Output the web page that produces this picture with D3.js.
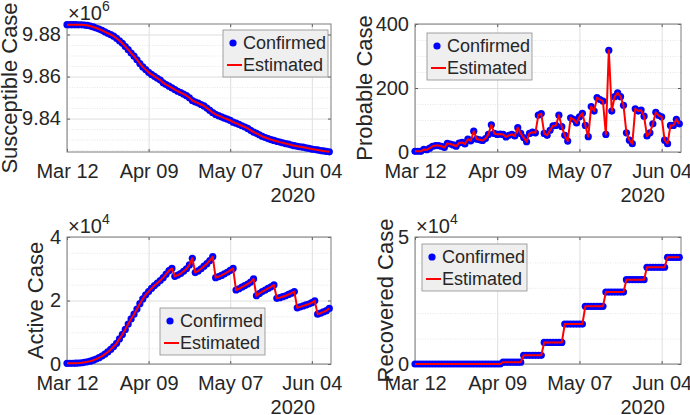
<!DOCTYPE html>
<html>
<head>
<meta charset="utf-8">
<script src="https://cdn.jsdelivr.net/npm/d3@7"></script>
<style>
  body { margin: 0; background: #fff; }
  svg text { font-family: "Liberation Sans", Arial, Helvetica, sans-serif; fill: #262626; }
  .grid line { stroke: #dedede; }
  .minor line { stroke: #e6e6e6; stroke-dasharray: 1,1.5; }
  .grid .domain, .minor .domain, .tk .domain { display: none; }
  .tk line { stroke: #5a5a5a; }
  .lbl text { font-size: 20px; }
  .lbl .domain, .lbl line { display: none; }
</style>
</head>
<body>
<div id="chart"></div>
<script>
const startDay = "2020-03-12";
const tickDays = ["2020-03-12", "2020-04-09", "2020-05-07", "2020-06-04"];
const yearLabel = "2020";
const legendLabels = ["Confirmed", "Estimated"];
const yLabels = ["Susceptible Case", "Probable Case", "Active Case", "Recovered Case"];

const susceptible = [
  9884700, 9884700, 9884700, 9884700, 9884600, 9884600, 9884500, 9884300, 9884000, 9883600,
  9883100, 9882600, 9882000, 9881300, 9880600, 9879900, 9879200, 9878200, 9877000, 9875800,
  9874300, 9872800, 9871200, 9869700, 9868000, 9866200, 9864600, 9863300, 9862000, 9861000,
  9860100, 9859200, 9858300, 9857000, 9856200, 9855400, 9854600, 9853800, 9853000, 9852400,
  9851600, 9850900, 9849900, 9848600, 9847900, 9847400, 9846700, 9846000, 9845000, 9843900,
  9842800, 9842000, 9841400, 9840800, 9840200, 9839700, 9839100, 9838300, 9837800, 9837200,
  9836600, 9836000, 9835300, 9834400, 9833600, 9833000, 9832300, 9831500, 9831000, 9830500,
  9830000, 9829600, 9829200, 9828800, 9828500, 9828100, 9827800, 9827400, 9827100, 9826800,
  9826600, 9826400, 9826100, 9825800, 9825500, 9825300, 9825100, 9824800, 9824600, 9824400,
  9824200
];

const probable = [
  2, 2, 2, 8, 7, 12, 18, 20, 20, 18,
  14, 27, 25, 22, 18, 28, 30, 25, 40, 35,
  65, 40, 38, 36, 42, 55, 85, 58, 55, 56,
  55, 47, 52, 55, 50, 76, 58, 45, 32, 58,
  62, 60, 115, 120, 58, 52, 68, 82, 83, 115,
  79, 52, 34, 107, 102, 91, 110, 121, 83, 48,
  142, 128, 170, 164, 159, 55, 318, 128, 173, 185,
  173, 146, 60, 37, 26, 135, 128, 131, 112, 50,
  60, 88, 124, 114, 110, 37, 26, 83, 83, 102,
  88
];

const active = [
  200, 220, 240, 270, 320, 400, 520, 680, 900, 1200,
  1550, 2000, 2500, 3100, 3800, 4600, 5500, 6500, 7900, 9300,
  10900, 12600, 14200, 15700, 17300, 19000, 20500, 21800, 22800, 23800,
  24700, 25500, 26300, 27200, 28300, 29400, 30100, 27600, 28000, 28500,
  29200, 30000, 31200, 33300, 28800, 29300, 30000, 30800, 31600, 32600,
  33800, 27200, 27500, 27900, 28400, 28900, 29500, 30100, 23300, 23700,
  24200, 24700, 25200, 25800, 26800, 21500, 22200, 22800, 23300, 23800,
  24300, 24900, 20700, 20900, 21200, 21500, 21900, 22300, 22800, 17700,
  18000, 18300, 18600, 18900, 19300, 19900, 15700, 16000, 16400, 16800,
  17500
];

const recovered = [
  0, 0, 0, 0, 0, 0, 0, 0, 0, 0,
  0, 0, 0, 0, 0, 0, 0, 0, 0, 0,
  0, 0, 0, 0, 0, 0, 0, 0, 0, 0,
  700, 700, 700, 700, 700, 700, 700, 3400, 3400, 3400,
  3400, 3400, 3400, 3400, 8500, 8500, 8500, 8500, 8500, 8500,
  8500, 15700, 15700, 15700, 15700, 15700, 15700, 15700, 22700, 22700,
  22700, 22700, 22700, 22700, 22700, 28300, 28300, 28300, 28300, 28300,
  28300, 28300, 33200, 33200, 33200, 33200, 33200, 33200, 33200, 38100,
  38100, 38100, 38100, 38100, 38100, 38100, 42000, 42000, 42000, 42000,
  42000
];

const susMajor = [9840000, 9860000, 9880000];
const susMinor = [9825000, 9830000, 9835000, 9845000, 9850000, 9855000, 9865000, 9870000, 9875000];
const probMajor = [0, 200, 400];
const probMinor = [50, 100, 150, 250, 300, 350];
const actMajor = [0, 20000, 40000];
const actMinor = [5000, 10000, 15000, 25000, 30000, 35000];
const recMajor = [0, 50000];
const recMinor = [10000, 20000, 30000, 40000];

let W = 690, H = 415;
let svg = d3.select("#chart").append("svg")
    .attr("width", W)
    .attr("height", H);

let parse = d3.timeParse("%Y-%m-%d");
let t0 = parse(startDay);
let dates = susceptible.map((d, i) => d3.timeDay.offset(t0, i));
let ticks = tickDays.map(parse);
let tEnd = d3.timeHour.offset(dates[dates.length - 1], 14);

let panels = [
    {values: susceptible, label: yLabels[0], domain: [9824100, 9885000], major: susMajor, minor: susMinor,
     x0: 67, y0: 24, w: 264, h: 128, labelX: 17, legend: [223, 30], fmt: d => (d / 1e6).toFixed(2), exp: "6"},
    {values: probable, label: yLabels[1], domain: [0, 400], major: probMajor, minor: probMinor,
     x0: 415, y0: 24, w: 266, h: 128, labelX: 372, legend: [427, 33], fmt: d => d, exp: null},
    {values: active, label: yLabels[2], domain: [0, 40000], major: actMajor, minor: actMinor,
     x0: 67, y0: 237, w: 264, h: 127, labelX: 43, legend: [160, 308], fmt: d => d / 1e4, exp: "4"},
    {values: recovered, label: yLabels[3], domain: [0, 50000], major: recMajor, minor: recMinor,
     x0: 415, y0: 237, w: 266, h: 127, labelX: 393, legend: [422, 244], fmt: d => d / 1e4, exp: "4"}
];

panels.forEach(p => {
    let w = p.w, h = p.h;
    let g = svg.append("g").attr("transform", "translate(" + p.x0 + "," + p.y0 + ")");

    let x = d3.scaleTime().domain([t0, tEnd]).range([0, w]);
    let y = d3.scaleLinear().domain(p.domain).range([h, 0]);

    // grid
    g.append("g").attr("class", "minor")
        .call(d3.axisLeft(y).tickValues(p.minor).tickSize(-w).tickFormat(""));
    g.append("g").attr("class", "grid")
        .call(d3.axisLeft(y).tickValues(p.major).tickSize(-w).tickFormat(""));
    g.append("g").attr("class", "grid")
        .attr("transform", "translate(0," + h + ")")
        .call(d3.axisBottom(x).tickValues(ticks).tickSize(-h).tickFormat(""));

    // small inward ticks on all sides
    g.append("g").attr("class", "tk")
        .call(d3.axisLeft(y).tickValues(p.major).tickSize(-3).tickFormat(""));
    g.append("g").attr("class", "tk").attr("transform", "translate(" + w + ",0)")
        .call(d3.axisRight(y).tickValues(p.major).tickSize(-3).tickFormat(""));
    g.append("g").attr("class", "tk").attr("transform", "translate(0," + h + ")")
        .call(d3.axisBottom(x).tickValues(ticks).tickSize(-3).tickFormat(""));
    g.append("g").attr("class", "tk")
        .call(d3.axisTop(x).tickValues(ticks).tickSize(-3).tickFormat(""));

    g.append("rect")
        .attr("width", w)
        .attr("height", h)
        .attr("fill", "none")
        .attr("stroke", "#7d7d7d")
        .attr("stroke-width", 1);

    // confirmed dots, estimated line on top
    g.append("g").selectAll("circle")
        .data(p.values)
        .join("circle")
        .attr("cx", (d, i) => x(dates[i]))
        .attr("cy", d => y(d))
        .attr("r", 3.6)
        .attr("fill", "#0000ff");

    g.append("path")
        .datum(p.values)
        .attr("fill", "none")
        .attr("stroke", "#ff0000")
        .attr("stroke-width", 2)
        .attr("stroke-linejoin", "round")
        .attr("d", d3.line().x((d, i) => x(dates[i])).y(d => y(d)));

    // tick labels
    g.append("g").attr("class", "lbl")
        .attr("transform", "translate(0," + h + ")")
        .call(d3.axisBottom(x).tickValues(ticks).tickFormat(d3.timeFormat("%b %d")).tickSize(0).tickPadding(12));
    g.append("g").attr("class", "lbl")
        .call(d3.axisLeft(y).tickValues(p.major).tickFormat(p.fmt).tickSize(0).tickPadding(6));

    g.append("text")
        .attr("x", x(ticks[ticks.length - 1]) - 19)
        .attr("y", h + 50)
        .attr("text-anchor", "middle")
        .style("font-size", "20px")
        .text(yearLabel);

    if (p.exp) {
        let ex = g.append("text")
            .attr("x", 1)
            .attr("y", -4)
            .style("font-size", "20px")
            .text("\u00d710");
        ex.append("tspan")
            .attr("dy", -9)
            .style("font-size", "14px")
            .text(p.exp);
    }

    svg.append("text")
        .attr("transform", "translate(" + p.labelX + "," + (p.y0 + h / 2) + ") rotate(-90)")
        .attr("text-anchor", "middle")
        .style("font-size", "22px")
        .text(p.label);

    // legend
    let lg = svg.append("g").attr("transform", "translate(" + p.legend[0] + "," + p.legend[1] + ")");
    lg.append("rect")
        .attr("width", 105)
        .attr("height", 47)
        .attr("fill", "#efefef")
        .attr("stroke", "#8c8c8c")
        .attr("stroke-width", 0.8);
    lg.append("circle")
        .attr("cx", 10)
        .attr("cy", 13)
        .attr("r", 3.6)
        .attr("fill", "#0000ff");
    lg.append("line")
        .attr("x1", 4).attr("x2", 19)
        .attr("y1", 35).attr("y2", 35)
        .attr("stroke", "#ff0000")
        .attr("stroke-width", 2);
    lg.selectAll("text.item")
        .data(legendLabels)
        .join("text")
        .attr("class", "item")
        .attr("x", 20)
        .attr("y", (d, i) => 13 + i * 22)
        .attr("dy", "0.35em")
        .style("font-size", "18px")
        .text(d => d);
});
</script>
</body>
</html>
